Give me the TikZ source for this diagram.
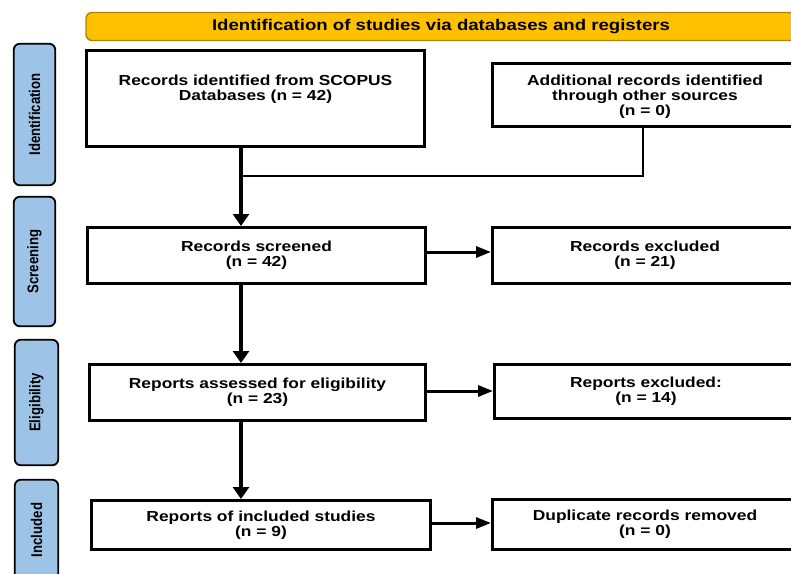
\documentclass[tikz,border=0pt]{standalone}
\usepackage{fontspec}
\setmainfont{Liberation Sans}
\newfontfamily\boxfont{Liberation Sans}[FakeStretch=1.2]
\newfontfamily\labfont{Liberation Sans}[FakeStretch=0.85]
\usetikzlibrary{arrows.meta}
\definecolor{bannerfill}{HTML}{FFC000}
\definecolor{bannerline}{HTML}{B08400}
\definecolor{phasefill}{HTML}{9DC3E6}
\begin{document}
\begin{tikzpicture}[x=1pt,y=-1pt,
  flowbox/.style={draw=black, line width=3.2pt, fill=white, inner sep=0pt},
  boxtext/.style={font=\boxfont\bfseries\fontsize{14.5}{15}\selectfont, align=center, inner sep=0pt},
  banner/.style={draw=bannerline, line width=1.4pt, fill=bannerfill, rounded corners=6pt, inner sep=0pt,
    font=\boxfont\bfseries\fontsize{15.5}{16}\selectfont},
  phase/.style={draw=black, line width=1.8pt, fill=phasefill, rounded corners=6pt, inner sep=0pt,
    rotate=90, font=\labfont\bfseries\fontsize{15.5}{16}\selectfont},
  flowarrow/.style={line width=3.2pt, -{Triangle[length=12pt,width=16pt]}},
  sidearrow/.style={line width=3pt, -{Triangle[length=15pt,width=11pt]}},
  joinline/.style={line width=2.2pt}
]
\fill[white] (0,0) rectangle (791,573);
\useasboundingbox (0,0) rectangle (791,573);
\clip (0,0) rectangle (791,573);

% banner
\node[banner, minimum width=710pt, minimum height=28pt] (ban) at (441,26.5)
  {Identification of studies via databases and registers};

% phase labels
\node[phase, minimum width=141.5pt, minimum height=41.5pt] (pid) at (34.5,114.5) {Identification};
\node[phase, minimum width=129.5pt, minimum height=41.5pt] (psc) at (34.5,261.5) {Screening};
\node[phase, minimum width=125.5pt, minimum height=43.5pt] (pel) at (36.5,402.5) {Eligibility};
\node[phase, minimum width=100.5pt, minimum height=43.5pt] (pin) at (36.5,530) {Included};

% boxes
\node[flowbox, minimum width=337.8pt, minimum height=95.8pt] (b1) at (255.5,98.5) {};
\node[boxtext] (t1) at ([yshift=9pt]b1.center) {Records identified from SCOPUS\\Databases (n = 42)};

\node[flowbox, line width=2.6pt, minimum width=305.4pt, minimum height=63.4pt] (b2) at (645,95) {};
\node[boxtext] (t2) at ([yshift=-2pt]b2.center) {Additional records identified\\through other sources\\(n = 0)};

\node[flowbox, minimum width=337.8pt, minimum height=55.8pt] (b3) at (256.5,255.5) {};
\node[boxtext] (t3) at (b3.center) {Records screened\\(n = 42)};

\node[flowbox, minimum width=304.8pt, minimum height=55.8pt] (b4) at (645,255.5) {};
\node[boxtext] (t4) at (b4.center) {Records excluded\\(n = 21)};

\node[flowbox, minimum width=335.8pt, minimum height=55.8pt] (b5) at (257.5,392.5) {};
\node[boxtext] (t5) at (b5.center) {Reports assessed for eligibility\\(n = 23)};

\node[flowbox, minimum width=302.8pt, minimum height=53.8pt] (b6) at (646,391.5) {};
\node[boxtext] (t6) at (b6.center) {Reports excluded:\\(n = 14)};

\node[flowbox, minimum width=338.8pt, minimum height=48.8pt] (b7) at (261,525) {};
\node[boxtext] (t7) at (b7.center) {Reports of included studies\\(n = 9)};

\node[flowbox, minimum width=304.8pt, minimum height=49.8pt] (b8) at (645,524.5) {};
\node[boxtext] (t8) at (b8.center) {Duplicate records removed\\(n = 0)};

% connectors
\coordinate (mx) at (241,0);
\coordinate (jn) at (241,176);
\draw[joinline] ([xshift=-2pt]b2.south) -- ([xshift=-2pt]b2.south |- jn) -- (jn);
\draw[flowarrow] (b1.south -| mx) -- (b3.north -| mx);
\draw[flowarrow] (b3.south -| mx) -- (b5.north -| mx);
\draw[flowarrow] (b5.south -| mx) -- (b7.north -| mx);
\draw[sidearrow] ([yshift=3.5pt]b3.east) -- ([yshift=3.5pt]b3.east -| b4.west);
\draw[sidearrow] ([yshift=1.5pt]b5.east) -- ([yshift=1.5pt]b5.east -| b6.west);
\draw[sidearrow] ([yshift=2pt]b7.east) -- ([yshift=2pt]b7.east -| b8.west);
\end{tikzpicture}
\end{document}
